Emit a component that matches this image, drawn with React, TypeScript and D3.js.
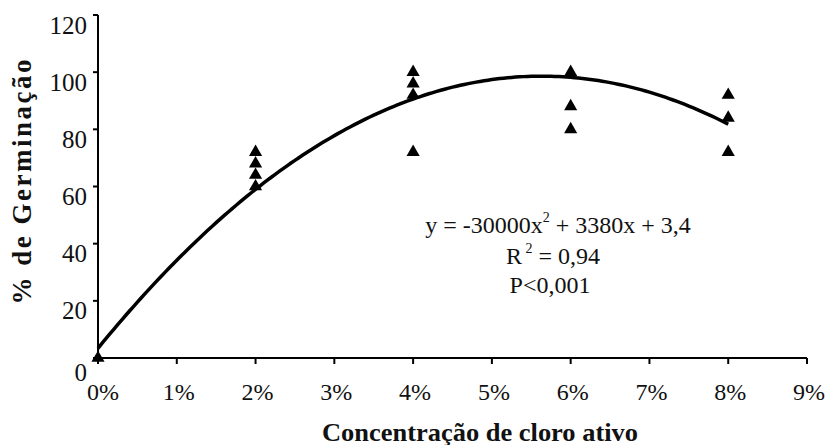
import React from "react";
import * as d3 from "d3";

const concentrations = [0, 0.02, 0.02, 0.02, 0.02, 0.04, 0.04, 0.04, 0.04, 0.06, 0.06, 0.06, 0.08, 0.08, 0.08];
const germination = [0, 72, 68, 64, 60, 100, 96, 92, 72, 100, 88, 80, 92, 84, 72];
const fitCoefficients = [-30000, 3380, 3.4]; // a x^2 + b x + c
const xTicks = [0, 0.01, 0.02, 0.03, 0.04, 0.05, 0.06, 0.07, 0.08, 0.09];
const xTickLabels = ["0%", "1%", "2%", "3%", "4%", "5%", "6%", "7%", "8%", "9%"];
const yTicks = [0, 20, 40, 60, 80, 100, 120];

const W = 829;
const H = 445;
const left = 98;
const right = 807;
const top = 15;
const bottom = 358;
const font = '"Liberation Serif", "Times New Roman", Times, "DejaVu Serif", serif';

export default function App() {
  const x = d3.scaleLinear().domain([0, 0.09]).range([left, right]);
  const y = d3.scaleLinear().domain([0, 120]).range([bottom, top]);
  const [a, b, c] = fitCoefficients;
  const xs = d3.range(0, 0.08 + 1e-9, 0.0005);
  const line = d3
    .line<number>()
    .x((d) => x(d))
    .y((d) => y(a * d * d + b * d + c));
  const tri = d3.symbol().type(d3.symbolTriangle).size(75)();
  const txt = { fontFamily: font, fill: "#111" } as React.CSSProperties;

  return (
    <svg width={W} height={H} style={{ position: "absolute", left: 0, top: 0, background: "#fff" }}>
      <rect width={W} height={H} fill="#fff" />
      {/* axes */}
      <line x1={left} x2={left} y1={top} y2={bottom} stroke="#000" strokeWidth={2} />
      <line x1={left} x2={right} y1={bottom} y2={bottom} stroke="#000" strokeWidth={2} />
      {yTicks.map((t) => (
        <g key={"y" + t}>
          <line x1={left - 5} x2={left} y1={y(t)} y2={y(t)} stroke="#000" strokeWidth={2} />
          <text
            x={left - 11}
            y={y(t) + (t === 0 ? 14 : 10)}
            textAnchor="end"
            dominantBaseline="central"
            fontSize={25}
            style={txt}
          >
            {t}
          </text>
        </g>
      ))}
      {xTicks.map((t, i) => (
        <g key={"x" + i}>
          <line x1={x(t)} x2={x(t)} y1={bottom} y2={bottom + 6} stroke="#000" strokeWidth={2} />
          <text
            x={x(t) + (i === 0 ? 5 : 2)}
            y={bottom + 34}
            textAnchor="middle"
            dominantBaseline="central"
            fontSize={24}
            style={txt}
          >
            {xTickLabels[i]}
          </text>
        </g>
      ))}
      {/* fitted curve */}
      <path d={line(xs) || ""} fill="none" stroke="#000" strokeWidth={3.5} strokeLinejoin="round" />
      {/* points */}
      {concentrations.map((cx, i) => (
        <path key={"p" + i} d={tri || ""} transform={`translate(${x(cx)},${y(germination[i])})`} fill="#000" />
      ))}
      {/* equation */}
      <text x={558} y={225} textAnchor="middle" dominantBaseline="central" fontSize={24} style={txt}>
        y = -30000x<tspan dy={-8} fontSize={14}>2</tspan>
        <tspan dy={8}> + 3380x + 3,4</tspan>
      </text>
      <text x={553} y={256} textAnchor="middle" dominantBaseline="central" fontSize={24} style={txt}>
        R<tspan dy={-8} fontSize={14}> 2</tspan>
        <tspan dy={8}> = 0,94</tspan>
      </text>
      <text x={550} y={285} textAnchor="middle" dominantBaseline="central" fontSize={24} style={txt}>
        P&lt;0,001
      </text>
      {/* axis titles */}
      <text
        x={480}
        y={432}
        textAnchor="middle"
        dominantBaseline="central"
        fontSize={26}
        fontWeight="bold"
        textLength={316}
        lengthAdjust="spacingAndGlyphs"
        style={txt}
      >
        Concentração de cloro ativo
      </text>
      <text
        transform={`translate(22,182) rotate(-90)`}
        textAnchor="middle"
        dominantBaseline="central"
        fontSize={27}
        fontWeight="bold"
        textLength={245}
        lengthAdjust="spacing"
        style={txt}
      >
        % de Germinação
      </text>
    </svg>
  );
}
